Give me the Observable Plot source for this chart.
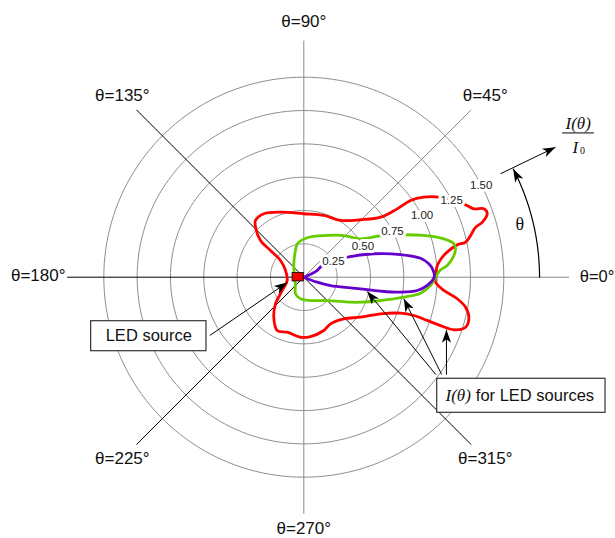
<!DOCTYPE html>
<html><head><meta charset="utf-8">
<script src="https://cdn.jsdelivr.net/npm/d3@7"></script>
<script src="https://cdn.jsdelivr.net/npm/@observablehq/plot@0.6"></script>
<style>body{margin:0;background:#fff} #chart svg{display:block}</style>
</head><body><div id="chart"></div>
<script>
// ---- data (angle in degrees, relative intensity I(θ)/I0) ----
const ringValues = [0.25, 0.5, 0.75, 1.0, 1.25, 1.5];
const ringLabels = ["0.25", "0.50", "0.75", "1.00", "1.25", "1.50"];
const ringLabelAngle = 27.5;
const axisAngles = [0, 45, 90, 135, 180, 225, 270, 315];
const angleLabels = ["θ=0°", "θ=45°", "θ=90°", "θ=135°", "θ=180°", "θ=225°", "θ=270°", "θ=315°"];

const purple = [[0,0],[26.6,0.112],[32.5,0.164],[24.7,0.358],[18.5,0.554],[13.2,0.745],[9.2,0.887],[6.1,0.943],[3.0,0.972],[0,0.978],[-3.8,0.928],[-6.7,0.857],[-8.8,0.734],[-10.3,0.585],[-11.6,0.434],[-12.8,0.359],[-17.3,0.21],[-20.5,0.107],[0,0]];
const green = [[0,0.988],[2.8,1.022],[4.7,1.079],[7.1,1.122],[10.0,1.155],[12.6,1.153],[15.3,1.089],[19.2,0.953],[23.0,0.815],[28.0,0.666],[34.1,0.514],[46.2,0.433],[60.7,0.359],[85.1,0.297],[101,0.255],[107.3,0.21],[126.7,0.125],[180,0.07],[218.5,0.08],[243.4,0.139],[261.3,0.164],[286,0.182],[315.1,0.248],[331.8,0.397],[336.2,0.465],[343.1,0.601],[348.7,0.765],[352.2,0.884],[356.3,0.953]];
const red = [[0,0.988],[5.0,1.005],[8.2,1.049],[10.4,1.106],[11.9,1.176],[12.2,1.241],[14.0,1.289],[16.2,1.341],[17.1,1.4],[19.1,1.456],[20.8,1.445],[21.9,1.375],[24.6,1.32],[30.7,1.177],[33.7,1.082],[35.7,0.986],[36.2,0.868],[38.0,0.731],[45.4,0.605],[57.1,0.507],[72.0,0.487],[90,0.476],[109.7,0.518],[122.2,0.562],[130.4,0.559],[134.0,0.521],[139.7,0.426],[141.3,0.32],[144.4,0.215],[159.9,0.146],[191.2,0.127],[211.6,0.19],[223.2,0.291],[233.1,0.375],[243.5,0.447],[253.2,0.431],[266.9,0.451],[276.4,0.448],[290.6,0.427],[299.8,0.403],[313.9,0.433],[324.8,0.52],[334.5,0.638],[339.6,0.774],[340.8,0.874],[340.7,0.981],[340.5,1.088],[340.7,1.193],[342.8,1.27],[346.4,1.274],[349.5,1.234],[352.0,1.162],[354.6,1.055],[357.8,0.989]];

// ---- layout ----
const W = 615, H = 538, CX = 303.3, CY = 276.7, K = 133.33; // px per unit
const rad = a => a * Math.PI / 180;
const pol = (a, r) => ({x: r * Math.cos(rad(a)), y: r * Math.sin(rad(a))});
const toPts = arr => arr.map(([a, r]) => pol(a, r));

const ringPts = ringValues.flatMap(v => d3.range(0, 361, 2).map(a => ({ring: v, ...pol(a, v)})));
const ringLab = ringValues.map((v, i) => ({...pol(ringLabelAngle, v), t: ringLabels[i]}));
const dark = new Set([135, 180, 225, 315]);
const axisLen = a => a === 0 ? 1.99 : 1.775;
const axes = axisAngles.map(a => ({a, ...pol(a, axisLen(a))}));
const labR = a => a === 270 ? 1.885 : a === 90 ? 1.915 : 1.925;
const angLabMid = axisAngles.map((a, i) => ({a, t: angleLabels[i], ...pol(a, labR(a))})).filter(d => d.a !== 0 && d.a !== 180);
const angLab0 = axisAngles.map((a, i) => ({a, t: angleLabels[i]})).filter(d => d.a === 0);
const angLab180 = axisAngles.map((a, i) => ({a, t: angleLabels[i]})).filter(d => d.a === 180);

// annotation arrows (data units)
const arrows = [
  {id: "led", x1: -0.705, y1: -0.437, x2: -0.125, y2: -0.04},
  {id: "p", x1: 0.99, y1: -0.73, x2: 0.4755, y2: -0.107},
  {id: "g", x1: 1.034, y1: -0.73, x2: 0.75, y2: -0.162},
  {id: "r", x1: 1.07, y1: -0.73, x2: 1.07, y2: -0.395},
  {id: "rad", x1: 1.475, y1: 0.776, x2: 1.888, y2: 0.975}
];
const arcR = 1.768, arcEnd = 27.3;
const arcPts = d3.range(0, arcEnd, 0.3).concat([arcEnd]).map(a => pol(a, arcR));
function head(x1, y1, x2, y2, id) {
  const dx = x2 - x1, dy = y2 - y1, len = Math.hypot(dx, dy);
  const ux = dx / len, uy = dy / len, nx = -uy, ny = ux;
  const L = 13 / K, Wd = 4.6 / K, N = 9.5 / K;
  return [[x2, y2], [x2 - ux * L + nx * Wd, y2 - uy * L + ny * Wd], [x2 - ux * N, y2 - uy * N], [x2 - ux * L - nx * Wd, y2 - uy * L - ny * Wd], [x2, y2]]
    .map(([x, y]) => ({x, y, id}));
}
const arcTip = pol(arcEnd, arcR);
const arcTan = {x: arcTip.x + Math.sin(rad(arcEnd)) * 0.1, y: arcTip.y - Math.cos(rad(arcEnd)) * 0.1};
const heads = arrows.flatMap(d => head(d.x1, d.y1, d.x2, d.y2, d.id))
  .concat(head(arcTan.x, arcTan.y, arcTip.x, arcTip.y, "arc"));

const boxes = [
  {x1: -1.595, x2: -0.73, y1: -0.555, y2: -0.33},
  {x1: 1.0005, x2: 2.263, y1: -1.017, y2: -0.762}
];
const source = [{x1: -0.084, x2: 0.0, y1: -0.032, y2: 0.032}];
const sans = "'Liberation Sans', Arial, Helvetica, sans-serif";
const serif = "'Liberation Serif', 'Times New Roman', serif";

const chart = Plot.plot({
  width: W, height: H, margin: 0,
  x: {domain: [-CX / K, (W - CX) / K], axis: null},
  y: {domain: [-(H - CY) / K, CY / K], axis: null},
  style: {fontFamily: sans, background: "white", color: "black"},
  marks: [
    Plot.line(ringPts, {x: "x", y: "y", z: "ring", stroke: "#8f8f8f", strokeWidth: 1}),
    Plot.link(axes.filter(d => !dark.has(d.a)), {x1: d => 0, y1: d => 0, x2: "x", y2: "y", stroke: "#8a8a8a", strokeWidth: 1}),
    Plot.link(axes.filter(d => dark.has(d.a)), {x1: d => 0, y1: d => 0, x2: "x", y2: "y", stroke: "#000", strokeWidth: 1}),
    Plot.line(toPts(red), {x: "x", y: "y", curve: "catmull-rom-closed", stroke: "#ff0000", strokeWidth: 2.8}),
    Plot.line(toPts(green), {x: "x", y: "y", curve: "catmull-rom-closed", stroke: "#66cc00", strokeWidth: 2.8}),
    Plot.line(toPts(purple), {x: "x", y: "y", curve: "catmull-rom", stroke: "#6600cc", strokeWidth: 2.8}),
    Plot.text(ringLab, {x: "x", y: "y", text: "t", fontSize: 11.5, fill: "white", stroke: "white", strokeWidth: 6}),
    Plot.text(ringLab, {x: "x", y: "y", text: "t", fontSize: 11.5, fill: "#222"}),
    Plot.rect(boxes, {x1: "x1", x2: "x2", y1: "y1", y2: "y2", fill: "white", stroke: "#333", strokeWidth: 1.2}),
    Plot.link(arrows, {x1: "x1", y1: "y1", x2: "x2", y2: "y2", stroke: "#000", strokeWidth: 1}),
    Plot.line(arcPts, {x: "x", y: "y", stroke: "#000", strokeWidth: 1.2}),
    Plot.line(heads, {x: "x", y: "y", z: "id", fill: "#000", stroke: "none"}),
    Plot.rect(source, {x1: "x1", x2: "x2", y1: "y1", y2: "y2", fill: "#ee0000", stroke: "#000", strokeWidth: 0.8}),
    Plot.text(angLabMid, {x: "x", y: "y", text: "t", fontSize: 17, fill: "#111"}),
    Plot.text(angLab0, {x: d => 2.07, y: d => 0, text: "t", textAnchor: "start", fontSize: 16.5, fill: "#111"}),
    Plot.text(angLab180, {x: d => -1.787, y: d => 0.015, text: "t", textAnchor: "end", fontSize: 17, fill: "#111"}),
    Plot.text(["LED source"], {x: d => -1.1625, y: d => -0.44, text: d => d, fontSize: 16.5, fill: "#111"}),
    Plot.text(["I(θ)"], {x: d => 1.063, y: d => -0.887, text: d => d, textAnchor: "start", fontSize: 17, fontFamily: serif, fontStyle: "italic", fill: "#111"}),
    Plot.text(["for LED sources"], {x: d => 1.29, y: d => -0.887, text: d => d, textAnchor: "start", fontSize: 16.5, fill: "#111"}),
    Plot.text(["θ"], {x: d => 1.62, y: d => 0.395, text: d => d, fontSize: 18, fontFamily: serif, fill: "#111"}),
    Plot.text(["I(θ)"], {x: d => 2.058, y: d => 1.15, text: d => d, fontSize: 17, fontFamily: serif, fontStyle: "italic", fill: "#111"}),
    Plot.link([0], {x1: d => 1.938, x2: d => 2.175, y1: d => 1.082, y2: d => 1.082, stroke: "#000", strokeWidth: 1}),
    Plot.text(["I"], {x: d => 2.036, y: d => 0.975, text: d => d, fontSize: 17, fontFamily: serif, fontStyle: "italic", fill: "#111"}),
    Plot.text(["0"], {x: d => 2.09, y: d => 0.945, text: d => d, fontSize: 10, fontFamily: serif, fill: "#111"})
  ]
});
document.getElementById("chart").appendChild(chart);
</script>
</body></html>
